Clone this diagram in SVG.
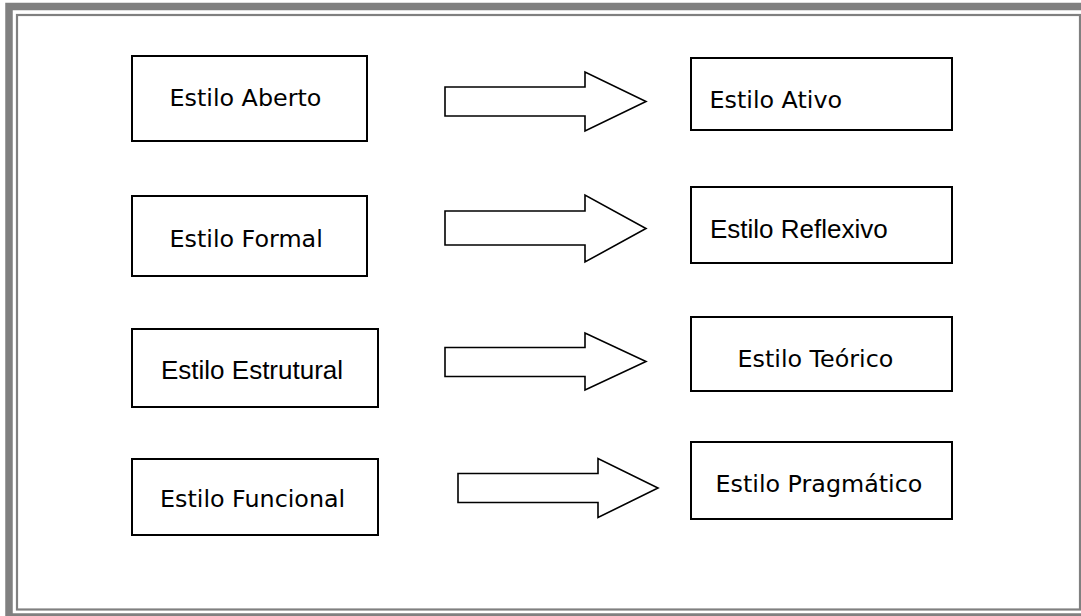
<svg xmlns="http://www.w3.org/2000/svg" width="1081" height="616" viewBox="0 0 1081 616">
<style>
.frame-outer{fill:none;stroke:#808080;stroke-width:7.5}
.frame-inner{fill:none;stroke:#808080;stroke-width:2.2}
.box{fill:#ffffff;stroke:#000000;stroke-width:2}
.arrow{fill:#ffffff;stroke:#000000;stroke-width:1.6;stroke-linejoin:miter}
.t1{font-family:"DejaVu Sans","Verdana",sans-serif;font-size:23.8px;fill:#000000}
.t2{font-family:"Liberation Sans","Arial",sans-serif;font-size:26px;fill:#000000}
</style>
<rect x="0" y="0" width="1081" height="616" fill="#ffffff"/>
<g id="frame">
<rect class="frame-outer" x="9" y="6.5" width="1080" height="610.5"/>
<rect class="frame-inner" x="17" y="15" width="1063" height="594.5"/>
</g>
<g id="node-aberto">
<rect class="box" x="132" y="56" width="235" height="85"/>
<text class="t1" x="169.5" y="106">Estilo Aberto</text>
</g>
<g id="node-formal">
<rect class="box" x="132" y="196" width="235" height="80"/>
<text class="t1" x="169.5" y="247">Estilo Formal</text>
</g>
<g id="node-estrutural">
<rect class="box" x="132" y="329" width="246" height="78"/>
<text class="t2" x="161" y="379">Estilo Estrutural</text>
</g>
<g id="node-funcional">
<rect class="box" x="132" y="459" width="246" height="76"/>
<text class="t1" x="160" y="507">Estilo Funcional</text>
</g>
<g id="node-ativo">
<rect class="box" x="691" y="58" width="261" height="72"/>
<text class="t1" x="709.5" y="107.5">Estilo Ativo</text>
</g>
<g id="node-reflexivo">
<rect class="box" x="691" y="187" width="261" height="76"/>
<text class="t2" x="710" y="238">Estilo Reflexivo</text>
</g>
<g id="node-teorico">
<rect class="box" x="691" y="317" width="261" height="74"/>
<text class="t1" x="737.5" y="367">Estilo Teórico</text>
</g>
<g id="node-pragmatico">
<rect class="box" x="691" y="442" width="261" height="77"/>
<text class="t1" x="715.5" y="492">Estilo Pragmático</text>
</g>
<g id="connectors">
<polygon class="arrow" points="445,87 585,87 585,72 646,101.5 585,131 585,116 445,116"/>
<polygon class="arrow" points="445,211 585,211 585,195 646,228.5 585,262 585,245 445,245"/>
<polygon class="arrow" points="445,347.5 585,347.5 585,333 646,361.5 585,390 585,376.5 445,376.5"/>
<polygon class="arrow" points="458,473.5 598,473.5 598,458.5 658,488 598,517.5 598,502.5 458,502.5"/>
</g>
</svg>
